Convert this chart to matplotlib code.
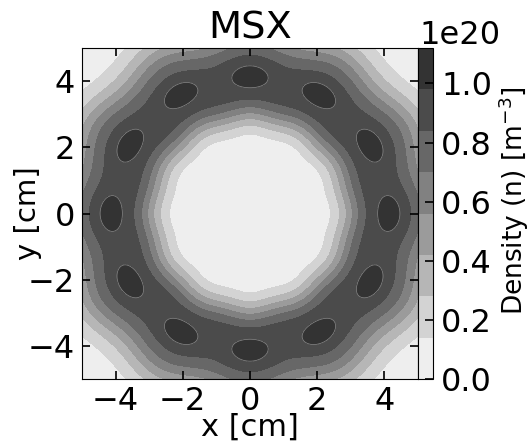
import numpy as np
import matplotlib
matplotlib.use("Agg")
import matplotlib.pyplot as plt
from matplotlib.colors import ListedColormap

# ring profile (lengths in cm, density in 1e20 m^-3)
ring_level = 0.88          # plateau density of the ring between the lobes
inner_edge, inner_sigma = 3.65, 0.67
outer_edge, outer_sigma = 4.35, 0.96
outer_bulge, inner_bulge = 0.11, 0.03
n_lobes = 12
lobe_radius = 4.13
lobe_height = 0.24
lobe_sig_t, lobe_sig_r = 0.41, 0.25
levels = np.linspace(0.0, 1.12, 9)

x_ticks = [-4, -2, 0, 2, 4]
y_ticks = [-4, -2, 0, 2, 4]
cbar_ticks = [0.0, 0.2, 0.4, 0.6, 0.8, 1.0]

band_colors = ["#eeeeee", "#d3d3d3", "#b6b6b6", "#9b9b9b",
               "#818181", "#676767", "#4b4b4b", "#333333"]

x = np.linspace(-5, 5, 600)
X, Y = np.meshgrid(x, x)
R = np.hypot(X, Y)
TH = np.arctan2(Y, X)
wave = np.cos(n_lobes * TH)

r_in = inner_edge + inner_bulge * wave
r_out = outer_edge + outer_bulge * wave
prof = np.ones_like(R)
prof = np.where(R < r_in, np.exp(-(R - r_in) ** 2 / (2 * inner_sigma ** 2)), prof)
prof = np.where(R > r_out, np.exp(-(R - r_out) ** 2 / (2 * outer_sigma ** 2)), prof)

step = 2 * np.pi / n_lobes
phi = np.mod(TH + step / 2, step) - step / 2
lobes = np.exp(-(R * phi) ** 2 / (2 * lobe_sig_t ** 2)
               - (R - lobe_radius) ** 2 / (2 * lobe_sig_r ** 2))
n = (ring_level * prof + lobe_height * lobes) * 1e20

plt.rcParams["font.size"] = 23
fig = plt.figure(figsize=(5.32, 4.41), dpi=100)
ax = fig.add_axes([82 / 532, 62 / 441, 336 / 532, 331 / 441])
cax = fig.add_axes([418 / 532, 62 / 441, 15 / 532, 331 / 441])

cs = ax.contourf(X, Y, n, levels=levels * 1e20, cmap=ListedColormap(band_colors))
ax.contour(X, Y, n, levels=[levels[-2] * 1e20], colors="#8c8c8c", linewidths=0.5)
ax.set_xlim(-5, 5); ax.set_ylim(-5, 5)
ax.set_xticks(x_ticks); ax.set_yticks(y_ticks)
ax.tick_params(direction="in", top=True, right=True, length=6, width=1.2, pad=5)
ax.set_xlabel("x [cm]", fontsize=22, labelpad=-3)
ax.set_ylabel("y [cm]", fontsize=21)
ax.yaxis.set_label_coords(-0.12, 0.5)
ax.set_title("MSX", pad=7)

cb = fig.colorbar(cs, cax=cax, ticks=[t * 1e20 for t in cbar_ticks])
cb.ax.tick_params(direction="in", length=6, width=1.2, pad=6)
cb.set_label("Density (n) [m$^{-3}$]", fontsize=19, labelpad=3)
cb.ax.yaxis.label.set_y(0.54)
off = cb.ax.yaxis.get_offset_text()
off.set_x(0.1)
off.set_horizontalalignment("left")

fig.savefig("out.png", dpi=100)
